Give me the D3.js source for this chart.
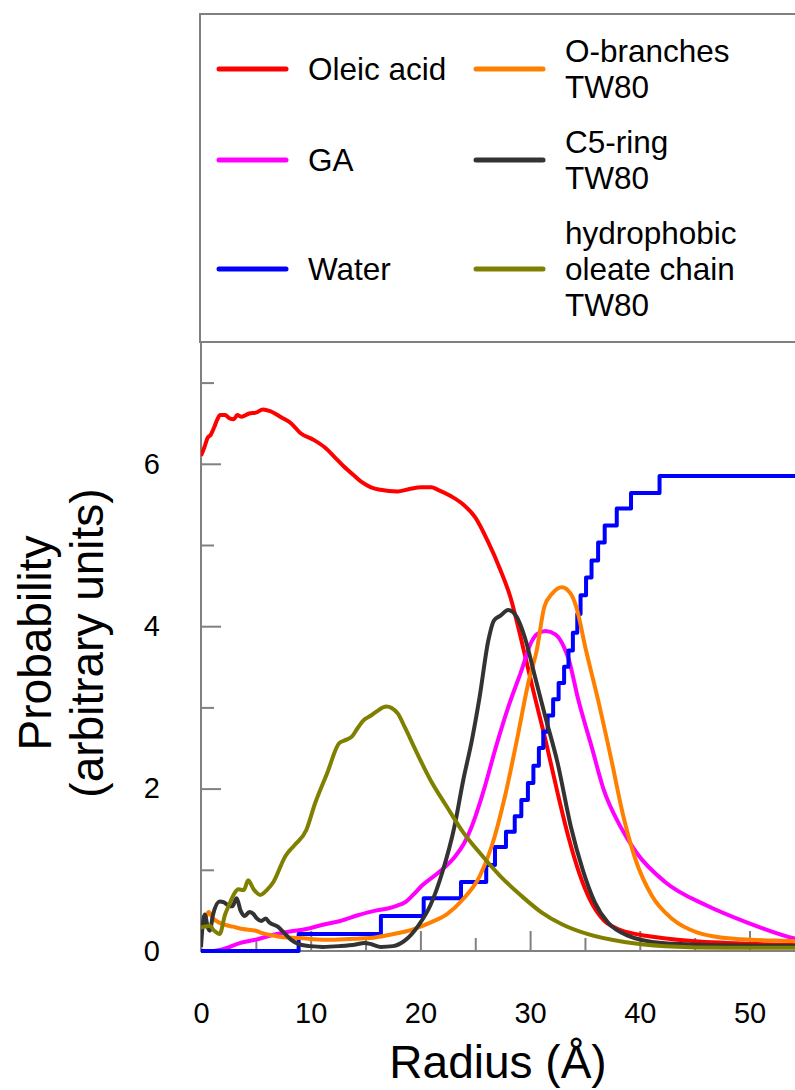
<!DOCTYPE html>
<html>
<head>
<meta charset="utf-8">
<script src="https://cdnjs.cloudflare.com/ajax/libs/d3/7.8.5/d3.min.js"></script>
<style>
  body { margin: 0; background: #fff; }
  svg { display: block; font-family: "Liberation Sans", Arial, sans-serif; }
  .axis path, .axis line { stroke: #808080; stroke-width: 2; }
  .axis text { fill: #000; }
</style>
</head>
<body>
<script>
// radius (Å) / probability pairs
var oleic = [[0,6.1],[0.3,6.2],[0.6,6.32],[0.9,6.36],[1.2,6.45],[1.5,6.55],[1.75,6.6],[2.2,6.6],[2.6,6.56],
  [3.0,6.55],[3.3,6.6],[3.7,6.58],[4.4,6.62],[5.0,6.63],[5.65,6.67],[6.3,6.65],[7.35,6.57],[8.2,6.5],
  [9.05,6.38],[10.2,6.3],[11.3,6.2],[12.2,6.08],[13.0,5.97],[14.0,5.85],[14.7,5.77],[15.5,5.71],
  [16.35,5.68],[17.9,5.66],[19.0,5.69],[20.1,5.71],[21.0,5.71],[21.6,5.68],[22.8,5.6],[23.9,5.5],
  [25.0,5.34],[26.1,5.06],[27.3,4.69],[28.2,4.36],[29.2,3.83],[30.3,3.2],[31.4,2.6],[32.5,1.95],
  [33.5,1.4],[34.5,0.95],[35.5,0.62],[36.7,0.38],[38,0.27],[40,0.2],[42,0.16],[45,0.12],[48,0.1],
  [52,0.08],[56,0.07]];

var ga = [[1.2,0],[1.9,0.02],[3.6,0.1],[5,0.14],[6.6,0.2],[8.1,0.24],[9.6,0.27],[11,0.32],[12.7,0.37],
  [14.3,0.44],[16.0,0.5],[17.2,0.53],[17.9,0.56],[18.6,0.6],[19.4,0.7],[20.1,0.8],[21.6,0.96],[23.2,1.17],
  [24,1.33],[24.7,1.54],[25.8,1.99],[26.9,2.52],[28.0,3.0],[29.2,3.45],[30.1,3.8],[30.6,3.9],[31.4,3.94],
  [32.3,3.9],[33.1,3.74],[33.5,3.6],[34.4,3.09],[35.6,2.52],[36.7,1.99],[38.2,1.54],[39.7,1.21],
  [42.3,0.85],[46.1,0.56],[49.8,0.35],[54.2,0.15],[56,0.1]];

var water = [[0,0],[8.9,0.21],[16.4,0.43],[20.3,0.65],[23.7,0.85],[26.0,1.06],[26.8,1.28],[27.8,1.47],
  [28.6,1.66],[29.2,1.86],[29.8,2.07],[30.3,2.28],[30.8,2.5],[31.2,2.7],[31.6,2.9],[32.1,3.1],[32.6,3.3],
  [33.1,3.5],[33.5,3.7],[33.9,3.92],[34.3,4.15],[34.6,4.38],[35.1,4.6],[35.6,4.81],[36.2,5.03],
  [36.8,5.24],[37.9,5.45],[39.2,5.64],[41.8,5.85],[60,5.85]];

var obranch = [[0,0.27],[0.4,0.4],[0.7,0.48],[1.1,0.4],[1.4,0.37],[2.0,0.33],[2.9,0.3],[3.8,0.27],
  [5.0,0.25],[5.6,0.22],[6.6,0.19],[7.5,0.17],[9.0,0.16],[11.2,0.14],[12.2,0.14],[14.1,0.15],[16,0.17],
  [17.2,0.2],[19.4,0.27],[20.9,0.35],[22.4,0.45],[23.9,0.64],[25.4,0.92],[26.5,1.29],[27.7,1.9],
  [28.8,2.6],[29.9,3.34],[30.6,3.7],[31.3,4.24],[32.0,4.4],[32.9,4.48],[33.7,4.4],[34.2,4.24],[35.1,3.7],
  [36.2,3.09],[37.4,2.36],[38.5,1.66],[39.6,1.13],[41.1,0.68],[43.0,0.39],[45.2,0.23],[48.6,0.15],
  [54.2,0.12],[56,0.11]];

var c5ring = [[0,0.05],[0.12,0.27],[0.35,0.45],[0.6,0.3],[0.8,0.25],[1.1,0.45],[1.7,0.61],[2.1,0.6],
  [2.5,0.56],[2.86,0.55],[3.25,0.65],[3.6,0.5],[3.99,0.43],[4.4,0.48],[4.74,0.46],[5.1,0.4],[5.49,0.37],
  [5.9,0.4],[6.24,0.35],[7.0,0.3],[7.6,0.22],[8.2,0.14],[9.0,0.08],[10,0.06],[11.1,0.05],[12.6,0.06],
  [14.1,0.08],[14.9,0.1],[15.6,0.08],[16.4,0.05],[17.5,0.06],[18.6,0.13],[19.8,0.31],[20.9,0.56],
  [22.0,0.97],[23.1,1.53],[23.9,2.1],[24.7,2.6],[25.4,3.13],[26.2,3.83],[26.7,4.07],[27.3,4.13],
  [28.0,4.2],[28.8,4.11],[29.5,3.87],[30.5,3.35],[31.4,2.88],[32.5,2.32],[33.7,1.54],[34.8,1.0],
  [35.9,0.6],[37.1,0.35],[38.9,0.19],[42,0.1],[48,0.07],[56,0.06]];

var oleate = [[0,0.29],[0.4,0.3],[0.8,0.31],[1.2,0.25],[1.7,0.21],[2.2,0.45],[2.6,0.58],[3.0,0.7],
  [3.4,0.76],[3.9,0.75],[4.3,0.87],[4.8,0.76],[5.4,0.69],[6.0,0.75],[6.6,0.85],[7.7,1.17],[8.5,1.3],
  [9.6,1.49],[10.4,1.82],[11.5,2.19],[12.6,2.56],[13.2,2.6],[13.75,2.64],[14.3,2.75],[14.9,2.85],
  [15.5,2.9],[16,2.95],[16.9,3.01],[17.9,2.93],[18.6,2.75],[19.4,2.52],[20.9,2.11],[22.4,1.78],
  [23.9,1.46],[25.4,1.21],[27.3,0.92],[29.2,0.68],[31,0.48],[32.9,0.33],[35.2,0.21],[38.6,0.11],
  [42.3,0.06],[48,0.04],[56,0.04]];

var xMajor = [0, 10, 20, 30, 40, 50],
    xMinor = [5, 15, 25, 35, 45, 55],
    yMajor = [0, 2, 4, 6],
    yMinor = [1, 3, 5, 7];

var series = [
  {name: ["Oleic acid"], data: oleic, color: "#ff0000"},
  {name: ["GA"], data: ga, color: "#ff00ff"},
  {name: ["Water"], data: water, color: "#0000ff", step: true},
  {name: ["O-branches", "TW80"], data: obranch, color: "#ff8000"},
  {name: ["C5-ring", "TW80"], data: c5ring, color: "#333333"},
  {name: ["hydrophobic", "oleate chain", "TW80"], data: oleate, color: "#808000"}
];

var W = 795, H = 1090;
var plotLeft = 201, plotTop = 342, plotBottom = 951;

var x = d3.scaleLinear().domain([0, 60]).range([plotLeft, plotLeft + 60 * 10.97]);
var y = d3.scaleLinear().domain([0, 7.5]).range([plotBottom, plotTop]);

var svg = d3.select("body").append("svg")
    .attr("width", W)
    .attr("height", H);

svg.append("defs").append("clipPath").attr("id", "plot")
  .append("rect")
    .attr("x", plotLeft).attr("y", plotTop)
    .attr("width", W - plotLeft).attr("height", plotBottom - plotTop + 3);

// plot frame (right side runs off the picture)
svg.append("rect")
    .attr("x", plotLeft).attr("y", plotTop)
    .attr("width", 700).attr("height", plotBottom - plotTop)
    .attr("fill", "none")
    .attr("stroke", "#808080")
    .attr("stroke-width", 2);

function noDomain(g) {
  g.select(".domain").remove();
  g.attr("font-size", 29).attr("font-family", null);
}

svg.append("g")
    .attr("class", "axis")
    .attr("transform", "translate(0," + plotBottom + ")")
    .call(d3.axisBottom(x).tickValues(xMajor).tickSize(-20).tickSizeOuter(0).tickPadding(51))
    .call(noDomain);

svg.append("g")
    .attr("class", "axis")
    .attr("transform", "translate(0," + plotBottom + ")")
    .call(d3.axisBottom(x).tickValues(xMinor).tickSize(-13).tickSizeOuter(0).tickFormat(""))
    .call(noDomain);

svg.append("g")
    .attr("class", "axis")
    .attr("transform", "translate(" + plotLeft + ",0)")
    .call(d3.axisLeft(y).tickValues(yMajor).tickSize(-20).tickSizeOuter(0).tickPadding(41))
    .call(noDomain);

svg.append("g")
    .attr("class", "axis")
    .attr("transform", "translate(" + plotLeft + ",0)")
    .call(d3.axisLeft(y).tickValues(yMinor).tickSize(-13).tickSizeOuter(0).tickFormat(""))
    .call(noDomain);

var plot = svg.append("g").attr("clip-path", "url(#plot)");

series.forEach(function(s) {
  var line = d3.line()
      .x(function(d) { return x(d[0]); })
      .y(function(d) { return y(d[1]); })
      .curve(s.step ? d3.curveStepAfter : d3.curveMonotoneX);
  plot.append("path")
      .datum(s.data)
      .attr("d", line)
      .attr("fill", "none")
      .attr("stroke", s.color)
      .attr("stroke-width", 4)
      .attr("stroke-linejoin", "round");
});

// axis titles
svg.append("text")
    .attr("x", 498).attr("y", 1078)
    .attr("text-anchor", "middle")
    .attr("font-size", 46)
    .text("Radius (Å)");

var yt = svg.append("g").attr("transform", "translate(0,643) rotate(-90)");
yt.append("text").attr("x", 0).attr("y", 51)
    .attr("text-anchor", "middle").attr("font-size", 46).text("Probability");
yt.append("text").attr("x", 0).attr("y", 103)
    .attr("text-anchor", "middle").attr("font-size", 46).text("(arbitrary units)");

// legend
var legend = svg.append("g");
legend.append("rect")
    .attr("x", 200).attr("y", 14)
    .attr("width", 700).attr("height", 328)
    .attr("fill", "none")
    .attr("stroke", "#808080")
    .attr("stroke-width", 2);

var legendPos = [[219, 69], [219, 160], [219, 269], [476, 69], [476, 160], [476, 269]];
var lineGap = 35.6;

series.forEach(function(s, i) {
  var p = legendPos[i];
  var g = legend.append("g").attr("transform", "translate(" + p[0] + "," + p[1] + ")");
  g.append("line")
      .attr("x1", 0).attr("x2", 67)
      .attr("stroke", s.color)
      .attr("stroke-width", 5)
      .attr("stroke-linecap", "round");
  var n = s.name.length;
  s.name.forEach(function(t, j) {
    g.append("text")
        .attr("x", 89)
        .attr("y", 11 + (j - (n - 1) / 2) * lineGap)
        .attr("font-size", 31.5)
        .text(t);
  });
});
</script>
</body>
</html>
